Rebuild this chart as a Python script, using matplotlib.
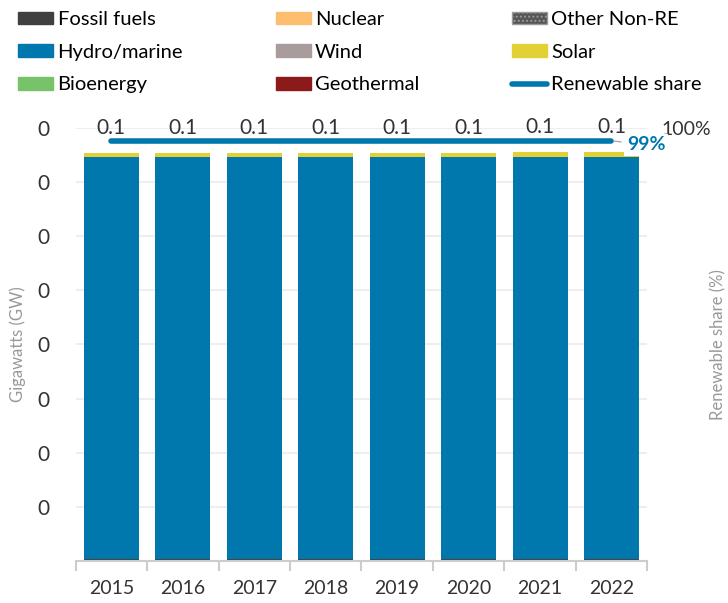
import matplotlib
matplotlib.use("Agg")
import matplotlib.pyplot as plt
from matplotlib.patches import Patch
from matplotlib.lines import Line2D
import numpy as np

plt.rcParams['font.family'] = ['Lato', 'DejaVu Sans']

years = ['2015', '2016', '2017', '2018', '2019', '2020', '2021', '2022']
fossil = [0.0004, 0.0004, 0.0004, 0.0004, 0.0004, 0.0004, 0.0004, 0.0004]
nuclear = [0, 0, 0, 0, 0, 0, 0, 0]
other_nonre = [0, 0, 0, 0, 0, 0, 0, 0]
hydro = [0.0742, 0.0742, 0.0742, 0.0742, 0.0742, 0.0742, 0.0742, 0.0742]
wind = [0, 0, 0, 0, 0, 0, 0, 0]
solar = [0.0008, 0.0008, 0.0008, 0.0008, 0.0008, 0.0008, 0.0010, 0.0010]
bio = [0, 0, 0, 0, 0, 0, 0, 0]
geo = [0, 0, 0, 0, 0, 0, 0, 0]
share = [0.99, 0.99, 0.99, 0.99, 0.99, 0.99, 0.99, 0.99]

series = [
    ('Fossil fuels', fossil, '#404040', None),
    ('Nuclear', nuclear, '#FDBF6F', None),
    ('Other Non-RE', other_nonre, '#555555', '....'),
    ('Hydro/marine', hydro, '#0077AD', None),
    ('Wind', wind, '#A89C9C', None),
    ('Solar', solar, '#E3D034', None),
    ('Bioenergy', bio, '#77C36A', None),
    ('Geothermal', geo, '#8B1A1A', None),
]

fig = plt.figure(figsize=(7.28, 6.03), dpi=100)
ax = fig.add_axes([0.104, 0.0697, 0.785, 0.718])
x = np.arange(len(years))
bottom = np.zeros(len(years))
for name, vals, col, hatch in series:
    v = np.array(vals)
    ax.bar(x, v, bottom=bottom, width=0.77, color=col, hatch=hatch,
           edgecolor='#999999' if hatch else col, linewidth=0)
    bottom += v

totals = bottom
for xi, t in zip(x, totals):
    ax.annotate(f"{t:.1f}", (xi, t), xytext=(0, 11), textcoords='offset points',
                ha='center', va='bottom', fontsize=15, color='#333333')

ax.set_xlim(-0.5, len(years) - 0.5)
ax.set_ylim(0, 0.08)
yt = np.arange(0.01, 0.081, 0.01)
ax.set_yticks(yt)
ax.set_yticklabels([f"{v:.0f}" for v in yt], fontsize=15, color='#333333')
ax.set_xticks(x)
ax.set_xticklabels(years, fontsize=14, color='#333333')
ax.tick_params(axis='x', length=0, pad=14)
ax.set_xticks(np.arange(-0.5, len(years), 1), minor=True)
ax.tick_params(axis='x', which='minor', length=7, color='#cccccc', width=1.5)
ax.tick_params(axis='y', length=0, pad=19)
ax.grid(axis='y', color='#eeeeee', linewidth=1.5)
ax.set_axisbelow(True)
for s in ['left', 'right', 'top']:
    ax.spines[s].set_visible(False)
ax.spines['bottom'].set_color('#cccccc')
ax.spines['bottom'].set_linewidth(1.5)
ax.set_ylabel('Gigawatts (GW)', fontsize=12, color='#999999', labelpad=8)

ax2 = ax.twinx()
ax2.set_ylim(0, 1.02)
ax2.plot(x, share, color='#0077AD', linewidth=4, solid_capstyle='round', zorder=5)
ax2.set_yticks([1.02])
ax2.set_yticklabels(['100%'], fontsize=14, color='#333333')
ax2.tick_params(axis='y', length=0, pad=10)
for s in ['left', 'right', 'top', 'bottom']:
    ax2.spines[s].set_visible(False)
ax2.set_ylabel('Renewable share (%)', fontsize=12, color='#999999', labelpad=0)
ax2.annotate(f"{share[-1]*100:.0f}%", (x[-1], share[-1]), xytext=(11, -3),
             textcoords='offset points', ha='left', va='center', fontsize=14,
             fontweight='bold', color='#0077AD',
             bbox=dict(boxstyle='square,pad=0.15', fc='white', ec='none'),
             arrowprops=dict(arrowstyle='-', color='#aaaaaa', lw=1))

handles = [Patch(facecolor=c, edgecolor='#999999' if h else c, hatch=h, label=n)
           for n, v, c, h in series]
handles.append(Line2D([0], [0], color='#0077AD', lw=4, solid_capstyle='round',
                      label='Renewable share'))
order = [0, 3, 6, 1, 4, 7, 2, 5, 8]
fig.legend([handles[i] for i in order], [handles[i].get_label() for i in order],
           loc='upper left', bbox_to_anchor=(0.014, 0.995), ncol=3, frameon=False,
           fontsize=14.5, handlelength=1.75, handleheight=0.6, handletextpad=0.2,
           columnspacing=4.6, labelspacing=0.78, borderaxespad=0)

fig.savefig('out.png', dpi=100)
